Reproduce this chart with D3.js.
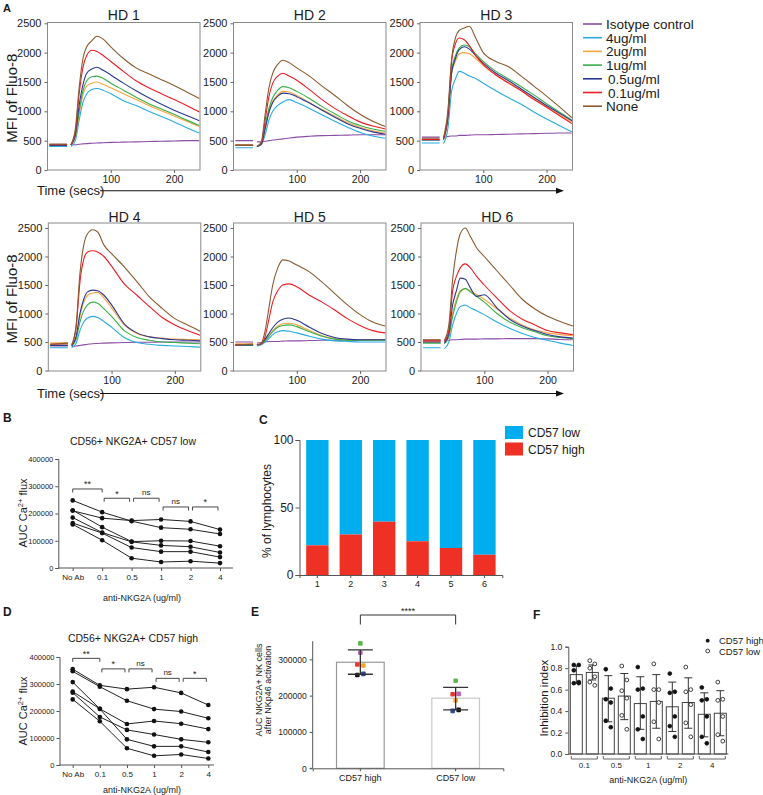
<!DOCTYPE html>
<html><head><meta charset="utf-8">
<script src="https://cdn.jsdelivr.net/npm/d3@7"></script>
<style>body{margin:0;background:#fff}svg{display:block}</style>
</head><body><svg id="c" width="763" height="795"></svg>
<script>
// ---------------- DATA ----------------
// Panel A: Ca2+ flux time courses (MFI of Fluo-8)
const times = [3,31,37,44,50,56,62,70,78,88,100,120,140,160,180,200,220,240];
const seriesNames = ["Isotype control","4ug/ml","2ug/ml","1ug/ml","0.5ug/ml","0.1ug/ml","None"];
const seriesColors = ["#8b4ea6","#29abe2","#f7a541","#3aae49","#2b3990","#ed1c24","#8c5a2e"];
const donors = ["HD 1","HD 2","HD 3","HD 4","HD 5","HD 6"];
const hd1 = [
 [440,440,430,430,440,445,450,455,460,465,470,475,480,485,490,495,500,500],
 [400,400,400,500,850,1150,1300,1370,1390,1360,1300,1180,1100,1000,910,820,720,630],
 [440,440,430,560,950,1280,1430,1480,1500,1460,1400,1300,1200,1100,1010,920,830,740],
 [430,430,430,580,1000,1350,1520,1590,1600,1560,1480,1360,1240,1130,1040,950,850,760],
 [420,420,430,600,1100,1450,1650,1720,1750,1700,1620,1480,1350,1230,1120,1020,930,840],
 [430,430,430,650,1300,1750,1950,2040,2020,1950,1850,1680,1520,1400,1300,1200,1100,990],
 [440,440,430,700,1400,1900,2100,2200,2280,2230,2100,1900,1740,1640,1540,1440,1330,1220]];
const hd2 = [
 [500,500,480,480,490,500,510,520,530,545,560,575,585,590,595,600,600,600],
 [380,380,400,430,600,850,1000,1100,1160,1200,1150,1050,940,830,730,640,580,540],
 [430,430,410,440,700,1000,1170,1280,1340,1330,1270,1150,1030,920,810,730,670,630],
 [420,420,400,450,750,1050,1230,1360,1420,1400,1340,1220,1080,960,840,760,700,660],
 [420,420,400,440,700,980,1150,1260,1310,1300,1250,1140,1020,900,790,710,650,610],
 [420,420,400,460,850,1250,1480,1600,1650,1600,1530,1370,1200,1050,930,820,750,700],
 [420,420,400,480,950,1400,1650,1800,1870,1830,1740,1600,1430,1270,1100,950,830,740]];
const hd3 = [
 [560,560,560,570,580,580,590,590,595,600,600,605,610,615,620,625,630,630],
 [460,460,450,700,1350,1550,1680,1650,1600,1560,1480,1350,1230,1120,990,870,760,650],
 [520,520,520,850,1650,1850,1980,2000,1980,1900,1780,1620,1490,1360,1220,1080,950,820],
 [510,510,520,900,1700,1950,2080,2130,2100,1980,1850,1680,1550,1420,1280,1130,990,850],
 [510,510,520,880,1650,1900,2050,2100,2060,1950,1820,1650,1520,1380,1240,1100,970,840],
 [520,520,530,950,1850,2150,2250,2220,2120,1950,1800,1620,1480,1350,1200,1070,930,790],
 [540,540,550,1000,1900,2250,2380,2420,2450,2250,2000,1850,1760,1600,1430,1260,1080,890]];
const hd4 = [
 [430,430,420,430,440,450,460,470,475,480,485,490,495,495,500,500,500,500],
 [400,400,400,480,700,850,920,950,930,860,760,580,490,460,440,430,420,410],
 [480,490,440,580,950,1200,1320,1360,1370,1270,1100,800,650,590,570,550,545,540],
 [440,440,430,550,850,1050,1150,1200,1180,1080,950,700,580,530,500,490,480,470],
 [440,440,430,600,1000,1250,1380,1410,1400,1320,1150,820,660,590,560,540,530,520],
 [460,470,450,750,1550,1950,2080,2100,2080,2000,1830,1520,1320,1120,930,800,700,620],
 [460,480,450,800,1700,2200,2400,2470,2430,2200,2050,1820,1560,1290,1090,910,800,690]];
const hd5 = [
 [500,500,480,490,500,510,510,510,515,520,520,525,530,530,535,535,540,540],
 [440,440,430,450,500,560,630,680,700,690,660,600,550,520,510,500,500,500],
 [470,470,460,470,530,620,700,780,820,830,800,700,610,560,540,540,540,540],
 [450,450,450,470,520,600,680,760,790,800,770,680,600,550,530,530,530,530],
 [450,450,450,470,550,650,750,850,900,920,880,760,650,580,550,540,540,540],
 [450,460,450,470,600,900,1200,1400,1500,1520,1470,1320,1200,1060,910,790,700,660],
 [450,460,450,480,700,1100,1500,1800,1940,1920,1850,1730,1550,1350,1150,980,850,780]];
const hd6 = [
 [530,530,520,530,540,540,545,550,550,550,555,555,560,560,560,555,545,540],
 [400,400,380,500,800,1000,1120,1150,1100,1050,980,850,740,650,580,530,480,440],
 [500,500,480,600,1000,1250,1400,1430,1400,1330,1250,1080,920,800,710,660,630,610],
 [480,480,470,600,950,1200,1380,1440,1380,1300,1200,1000,850,750,680,610,580,560],
 [500,500,480,650,1150,1400,1620,1600,1450,1300,1330,1100,900,780,700,630,590,570],
 [520,520,510,700,1400,1650,1800,1870,1800,1650,1500,1270,1050,900,800,700,660,630],
 [540,540,530,800,1600,2100,2400,2500,2350,2150,2000,1750,1500,1250,1080,950,860,780]];
const hdData = [hd1,hd2,hd3,hd4,hd5,hd6];
const yTicksA = [0,500,1000,1500,2000,2500];
const xTicksA = [100,200];

// Panels B & D: AUC Ca2+ flux per donor vs anti-NKG2A dose
const doseLabels = ["No Ab","0.1","0.5","1","2","4"];
const bLow = [
 [248000,205000,172000,148000,142000,125000],
 [210000,183000,174000,178000,171000,141000],
 [212000,150000,97000,100000,99000,80000],
 [185000,130000,96000,83000,78000,57000],
 [165000,128000,75000,60000,60000,40000],
 [160000,102000,36000,22000,25000,18000]];
const dHigh = [
 [355000,295000,281000,288000,267000,222000],
 [347000,290000,238000,207000,198000,173000],
 [307000,208000,95000,69000,69000,48000],
 [272000,208000,152000,163000,153000,133000],
 [268000,178000,130000,113000,95000,84000],
 [243000,162000,62000,34000,39000,24000]];
const bBrackets = [["No Ab","0.1",290000,"**"],["0.1","0.5",256000,"*"],["0.5","1",256000,"ns"],["1","2",224000,"ns"],["2","4",224000,"*"]];
const dBrackets = [["No Ab","0.1",395000,"**"],["0.1","0.5",356000,"*"],["0.5","1",356000,"ns"],["1","2",321000,"ns"],["2","4",321000,"*"]];
const aucTicks = [0,100000,200000,300000,400000];

// Panel C: % of lymphocytes
const cDonors = ["1","2","3","4","5","6"];
const cHigh = [22,30,39.5,25,20,15];
const cLegend = ["CD57 low","CD57 high"];
const cColors = ["#00aeef","#ee3124"];

// Panel E
const eGroups = ["CD57 high","CD57 low"];
const eMeans = [292000,193000];
const eSDLow = [259000,161000];
const eSDHigh = [326000,223000];
const eDonorColors = ["#5cb84f","#c45fb5","#e8392b","#f5a623","#2e4a9e","#111111"];
const eHighPts = [344000,318000,286000,283000,260000,257000];
const eLowPts = [241000,205000,204000,187000,158000,161000];
const eTicks = [0,100000,200000,300000];

// Panel F
const fDoses = ["0.1","0.5","1","2","4"];
const fHighMean = [0.74,0.52,0.47,0.44,0.37];
const fLowMean = [0.76,0.54,0.49,0.48,0.38];
const fHighSD = [[0.66,0.82],[0.30,0.73],[0.23,0.72],[0.21,0.67],[0.16,0.57]];
const fLowSD = [[0.69,0.83],[0.32,0.75],[0.24,0.74],[0.24,0.71],[0.17,0.59]];
const fHighPts = [[0.83,0.83,0.78,0.67,0.66,0.66],[0.79,0.61,0.51,0.48,0.31,0.25],[0.81,0.61,0.60,0.35,0.23,0.14],[0.75,0.58,0.57,0.35,0.26,0.16],[0.62,0.51,0.50,0.35,0.16,0.10]];
const fLowPts = [[0.87,0.84,0.80,0.72,0.67,0.64],[0.82,0.69,0.59,0.52,0.36,0.23],[0.84,0.60,0.60,0.48,0.30,0.14],[0.81,0.60,0.58,0.46,0.29,0.16],[0.67,0.51,0.50,0.35,0.18,0.12]];
const fTicks = [0,0.2,0.4,0.6,0.8,1.0];

// ---------------- DRAWING ----------------
const FONT = '"Liberation Sans", Arial, Helvetica, sans-serif';
const svg = d3.select("#c").attr("font-family", FONT);
svg.append("rect").attr("width",763).attr("height",795).attr("fill","#fff");

function txt(x, y, s, size, opts = {}) {
  const t = svg.append("text").attr("x", x).attr("y", y).attr("font-size", size)
    .attr("fill", opts.fill || "#1a1a1a").attr("text-anchor", opts.anchor || "start").text(s);
  if (opts.bold) t.attr("font-weight", "bold");
  if (opts.rotate) t.attr("transform", `rotate(-90,${x},${y})`);
  return t;
}
function styleAxis(g, size, color) {
  g.attr("font-family", FONT).attr("font-size", size);
  g.selectAll("path.domain").attr("stroke", color);
  g.selectAll(".tick line").attr("stroke", color);
  g.selectAll(".tick text").attr("fill", "#1a1a1a");
}

// ===== Panel A =====
txt(3, 12, "A", 11, {bold: true});
const frameLefts = [[47.5, 233.5, 420], [48.3, 233.5, 421]];
const rowDefs = [{top: 22.5, bottom: 170, y0: 170, yMax: 23.3, title: 20, arrowY: 190.7, timeY: 195},
                 {top: 223, bottom: 371, y0: 370.5, yMax: 228, title: 221.5, arrowY: 393.5, timeY: 397.5}];
const FW = 152.5;
const defs = svg.append("defs");
hdData.forEach((data, i) => {
  const row = Math.floor(i / 3), col = i % 3;
  const left = frameLefts[row][col];
  const R = rowDefs[row];
  const x = d3.scaleLinear().domain([0, 241]).range([left, left + FW]);
  const y = d3.scaleLinear().domain([0, 2500]).range([R.y0, R.yMax]);
  defs.append("clipPath").attr("id", "clipA" + i).append("rect")
    .attr("x", left).attr("y", R.top).attr("width", FW).attr("height", R.bottom - R.top);
  const g = svg.append("g");
  const line = d3.line().defined(d => d.v != null).x(d => x(d.t)).y(d => y(d.v)).curve(d3.curveMonotoneX);
  data.forEach((vals, s) => {
    const pts = [];
    vals.forEach((v, k) => { if (k === 2) pts.push({t: 34, v: null}); pts.push({t: times[k], v}); });
    g.append("path").attr("d", line(pts)).attr("fill", "none").attr("stroke", seriesColors[s])
      .attr("stroke-width", 1.1).attr("clip-path", `url(#clipA${i})`);
  });
  g.append("rect").attr("x", left).attr("y", R.top).attr("width", FW).attr("height", R.bottom - R.top)
    .attr("fill", "none").attr("stroke", "#8a8a8a").attr("stroke-width", 1);
  const ya = svg.append("g").attr("transform", `translate(${left},0)`)
    .call(d3.axisLeft(y).tickValues(yTicksA).tickSize(3).tickFormat(d3.format("d")));
  ya.select(".domain").remove();
  styleAxis(ya, 11, "#666");
  const xa = svg.append("g").attr("transform", `translate(0,${R.bottom})`)
    .call(d3.axisBottom(x).tickValues(xTicksA).tickSize(3).tickFormat(d3.format("d")));
  xa.select(".domain").remove();
  styleAxis(xa, 10.5, "#666");
  txt(left + FW / 2, R.title, donors[i], 14, {anchor: "middle"});
});
rowDefs.forEach(R => {
  txt(17, (R.top + R.bottom) / 2 + 2, "MFI of Fluo-8", 15, {anchor: "middle", rotate: true});
  txt(37, R.timeY, "Time (secs)", 13);
  svg.append("line").attr("x1", 100).attr("x2", 558).attr("y1", R.arrowY).attr("y2", R.arrowY)
    .attr("stroke", "#111").attr("stroke-width", 1.1);
  svg.append("path").attr("d", `M564,${R.arrowY} L556,${R.arrowY - 3} L556,${R.arrowY + 3} Z`).attr("fill", "#111");
});
// legend A
const legY = d3.range(7).map(k => 24 + k * 13.7);
seriesNames.forEach((n, s) => {
  svg.append("line").attr("x1", 583).attr("x2", 602).attr("y1", legY[s]).attr("y2", legY[s])
    .attr("stroke", seriesColors[s]).attr("stroke-width", 1.6);
  txt(606 + (n.startsWith("0.") ? 2 : 0), legY[s] + 5, n, 13.5);
});

// ===== Panels B & D =====
function aucPanel(cfg) {
  txt(3, cfg.letterY, cfg.letter, 12, {bold: true});
  txt(133, cfg.titleY, cfg.title, 10.5, {anchor: "middle"});
  const x = d3.scalePoint().domain(doseLabels).range(cfg.xr);
  const y = d3.scaleLinear().domain([0, 400000]).range(cfg.yr);
  const ya = svg.append("g").attr("transform", `translate(${cfg.axisX},0)`)
    .call(d3.axisLeft(y).tickValues(aucTicks).tickSize(3).tickPadding(2).tickFormat(d3.format("d")));
  styleAxis(ya, 7.5, "#555");
  const xa = svg.append("g").attr("transform", `translate(0,${cfg.yr[0]})`)
    .call(d3.axisBottom(x).tickSize(3).tickPadding(3));
  xa.select(".domain").attr("d", `M${cfg.axisX},0H${cfg.axisEnd}`);
  styleAxis(xa, 8, "#555");
  const line = d3.line().x((d, k) => x(doseLabels[k])).y(d => y(d));
  cfg.data.forEach(vals => {
    svg.append("path").attr("d", line(vals)).attr("fill", "none").attr("stroke", "#222").attr("stroke-width", 1);
    vals.forEach((v, k) => svg.append("circle").attr("cx", x(doseLabels[k])).attr("cy", y(v)).attr("r", 2.3).attr("fill", "#111"));
  });
  cfg.brackets.forEach(([a, b, v, lab], k) => {
    const x1 = x(a) + (k === 0 ? 0 : 2), x2 = x(b) - (k === 0 ? 0 : 2), yy = y(v);
    svg.append("path").attr("d", `M${x1},${yy + 3.5}V${yy}H${x2}V${yy + 3.5}`)
      .attr("fill", "none").attr("stroke", "#333").attr("stroke-width", 0.9);
    txt((x1 + x2) / 2, yy - (lab === "ns" ? 3 : 1.5), lab, lab === "ns" ? 8 : 9, {anchor: "middle"});
  });
  const yl = svg.append("text").attr("x", 27).attr("y", cfg.ylabY).attr("font-size", 11)
    .attr("text-anchor", "middle").attr("fill", "#1a1a1a").attr("transform", `rotate(-90,27,${cfg.ylabY})`);
  yl.append("tspan").text("AUC Ca");
  yl.append("tspan").attr("font-size", 7.5).attr("dy", -4).text("2+");
  yl.append("tspan").attr("dy", 4).text(" flux");
  txt(142, cfg.xlabY, "anti-NKG2A (ug/ml)", 9, {anchor: "middle"});
}
aucPanel({letter: "B", letterY: 422, title: "CD56+ NKG2A+ CD57 low", titleY: 445, xr: [72.7, 220], yr: [568, 459],
  axisX: 58.3, axisEnd: 233, data: bLow, brackets: bBrackets, ylabY: 513, xlabY: 601});
aucPanel({letter: "D", letterY: 616, title: "CD56+ NKG2A+ CD57 high", titleY: 642, xr: [72.7, 208.3], yr: [765, 657],
  axisX: 59.5, axisEnd: 214, data: dHigh, brackets: dBrackets, ylabY: 711, xlabY: 793});

// ===== Panel C =====
txt(259, 424, "C", 12, {bold: true});
{
  const x = d3.scaleBand().domain(cDonors).range([299.5, 502.3]).paddingInner(0.33).paddingOuter(0.2);
  const y = d3.scaleLinear().domain([0, 100]).range([575, 440]);
  cDonors.forEach((d, k) => {
    svg.append("rect").attr("x", x(d)).attr("width", x.bandwidth()).attr("y", y(100)).attr("height", y(cHigh[k]) - y(100))
      .attr("fill", cColors[0]);
    svg.append("rect").attr("x", x(d)).attr("width", x.bandwidth()).attr("y", y(cHigh[k])).attr("height", y(0) - y(cHigh[k]))
      .attr("fill", cColors[1]);
  });
  const ya = svg.append("g").attr("transform", "translate(299.5,0)")
    .call(d3.axisLeft(y).tickValues([0, 50, 100]).tickSize(4).tickPadding(2));
  styleAxis(ya, 12, "#555");
  const xa = svg.append("g").attr("transform", "translate(0,575)").call(d3.axisBottom(x).tickSize(3));
  styleAxis(xa, 9, "#555");
  txt(271, 511, "% of lymphocytes", 12, {anchor: "middle", rotate: true});
  cLegend.forEach((n, k) => {
    svg.append("rect").attr("x", 505).attr("y", 426 + k * 16.5).attr("width", 18).attr("height", 13).attr("fill", cColors[k]);
    txt(528, 437 + k * 16.5, n, 12);
  });
}

// ===== Panel E =====
txt(251, 616, "E", 12, {bold: true});
{
  const x = d3.scaleBand().domain(eGroups).range([312.7, 503.3]).paddingInner(0.5).paddingOuter(0.25);
  const y = d3.scaleLinear().domain([0, 350000]).range([768.3, 641.2]);
  const strokes = ["#999", "#c8c8c8"];
  eGroups.forEach((gname, k) => {
    svg.append("rect").attr("x", x(gname)).attr("width", x.bandwidth()).attr("y", y(eMeans[k]))
      .attr("height", y(0) - y(eMeans[k])).attr("fill", "#fff").attr("stroke", strokes[k]).attr("stroke-width", 1.2);
  });
  const ya = svg.append("g").attr("transform", "translate(312.7,0)")
    .call(d3.axisLeft(y).tickValues(eTicks).tickSize(3).tickFormat(d3.format("d")));
  ya.select(".domain").attr("d", `M-3,${y(0)}H0V${y(350000)}`);
  styleAxis(ya, 8.5, "#555");
  const xa = svg.append("g").attr("transform", `translate(0,${y(0)})`).call(d3.axisBottom(x).tickSize(3));
  styleAxis(xa, 9, "#555");
  const pts = [eHighPts, eLowPts];
  const jit = [[0, 0, -3, 3, 3, -3], [0, 3, -3, 0, -3, 3]];
  eGroups.forEach((gname, k) => {
    const cx = x(gname) + x.bandwidth() / 2;
    pts[k].forEach((v, j) => svg.append("rect").attr("x", cx + jit[k][j] - 2.3).attr("y", y(v) - 2.3)
      .attr("width", 4.6).attr("height", 4.6).attr("rx", 1).attr("fill", eDonorColors[j]));
    svg.append("path").attr("d", `M${cx},${y(eSDLow[k])}V${y(eSDHigh[k])}M${cx - 12.5},${y(eSDHigh[k])}H${cx + 12.5}M${cx - 12.5},${y(eSDLow[k])}H${cx + 12.5}`)
      .attr("stroke", "#333").attr("stroke-width", 1.3).attr("fill", "none");
  });
  const c1 = x(eGroups[0]) + x.bandwidth() / 2, c2 = x(eGroups[1]) + x.bandwidth() / 2;
  svg.append("path").attr("d", `M${c1},624.5V615H${c2}V624.5`).attr("fill", "none").attr("stroke", "#333").attr("stroke-width", 1);
  txt((c1 + c2) / 2, 614, "****", 9, {anchor: "middle"});
  txt(262, 690, "AUC NKG2A+ NK cells", 9, {anchor: "middle", rotate: true});
  txt(271, 690, "after NKp46 activation", 9, {anchor: "middle", rotate: true});
}

// ===== Panel F =====
txt(533, 619, "F", 12, {bold: true});
{
  const x = d3.scaleBand().domain(fDoses).range([568.3, 728.3]);
  const xs = d3.scaleBand().domain(["high", "low"]).range([2, 30]).paddingInner(0.25);
  const y = d3.scaleLinear().domain([0, 1]).range([754, 646.7]);
  const groups = [{mean: fHighMean, sd: fHighSD, pts: fHighPts, k: "high", fill: "#111"},
                  {mean: fLowMean, sd: fLowSD, pts: fLowPts, k: "low", fill: "#fff"}];
  const jit = [-2.5, 2.5, -2.5, 2.5, -2.5, 2.5];
  fDoses.forEach((d, i) => {
    groups.forEach(G => {
      const bx = x(d) + xs(G.k), bw = xs.bandwidth(), cx = bx + bw / 2;
      svg.append("rect").attr("x", bx).attr("width", bw).attr("y", y(G.mean[i])).attr("height", y(0) - y(G.mean[i]))
        .attr("fill", "#fff").attr("stroke", "#444").attr("stroke-width", 1);
      svg.append("path").attr("d", `M${cx},${y(G.sd[i][0])}V${y(G.sd[i][1])}M${cx - 4},${y(G.sd[i][1])}H${cx + 4}M${cx - 4},${y(G.sd[i][0])}H${cx + 4}`)
        .attr("stroke", "#333").attr("stroke-width", 1).attr("fill", "none");
      G.pts[i].forEach((v, j) => svg.append("circle").attr("cx", cx + jit[j]).attr("cy", y(v)).attr("r", 1.9)
        .attr("fill", G.fill).attr("stroke", "#111").attr("stroke-width", 0.8));
    });
    const s = x(d) + 3, e = x(d) + x.bandwidth() - 3;
    svg.append("path").attr("d", `M${s},756V759H${e}V756`).attr("fill", "none").attr("stroke", "#555").attr("stroke-width", 0.9);
    txt((s + e) / 2, 767.5, d, 8, {anchor: "middle"});
  });
  const ya = svg.append("g").attr("transform", "translate(568.3,0)")
    .call(d3.axisLeft(y).tickValues(fTicks).tickSize(3).tickFormat(d3.format(".1f")));
  styleAxis(ya, 8.5, "#555");
  svg.append("line").attr("x1", 568.3).attr("x2", 728.3).attr("y1", 754).attr("y2", 754).attr("stroke", "#555");
  txt(547.5, 698, "Inhibition index", 11.5, {anchor: "middle", rotate: true});
  txt(648.3, 782.5, "anti-NKG2A (ug/ml)", 9, {anchor: "middle"});
  svg.append("circle").attr("cx", 707.7).attr("cy", 640.7).attr("r", 1.9).attr("fill", "#111");
  svg.append("circle").attr("cx", 707.7).attr("cy", 651).attr("r", 1.9).attr("fill", "#fff").attr("stroke", "#111").attr("stroke-width", 0.8);
  txt(719, 644, "CD57 high", 9.5);
  txt(719, 654.5, "CD57 low", 9.5);
}
</script></body></html>
